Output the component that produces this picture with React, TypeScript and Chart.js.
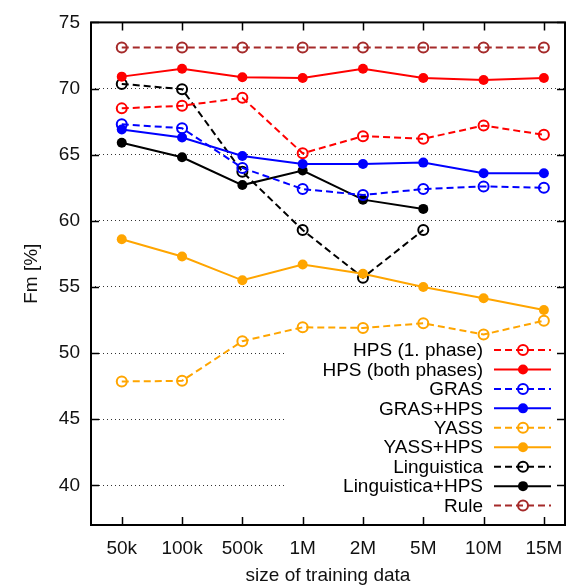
import React, { useEffect, useRef } from "react";
import { Chart, registerables } from "chart.js";

Chart.register(...registerables);

const categories = ["50k", "100k", "500k", "1M", "2M", "5M", "10M", "15M"];
const yTicks = [40, 45, 50, 55, 60, 65, 70, 75];

const hps1 = [68.5, 68.7, 69.3, 65.1, 66.4, 66.2, 67.2, 66.5];
const hpsBoth = [70.9, 71.5, 70.85, 70.8, 71.5, 70.8, 70.65, 70.8];
const gras = [67.3, 67.0, 64.0, 62.4, 61.95, 62.4, 62.6, 62.5];
const grasHps = [66.9, 66.3, 64.9, 64.3, 64.3, 64.4, 63.6, 63.6];
const yass = [47.85, 47.9, 50.9, 51.95, 51.9, 52.25, 51.4, 52.45];
const yassHps = [58.6, 57.3, 55.5, 56.7, 56.0, 55.0, 54.15, 53.25];
const linguistica = [70.35, 69.95, 63.7, 59.3, 55.7, 59.3, null, null];
const linguisticaHps = [65.9, 64.8, 62.7, 63.8, 61.6, 60.9, null, null];
const rule = [73.1, 73.1, 73.1, 73.1, 73.1, 73.1, 73.1, 73.1];

const FONT = "'Liberation Sans', Arial, Helvetica, sans-serif";
const FS = 19;

type Series = { label: string; data: (number | null)[]; color: string; dashed: boolean };

const seriesList: Series[] = [
  { label: "HPS (1. phase)", data: hps1, color: "#ff0000", dashed: true },
  { label: "HPS (both phases)", data: hpsBoth, color: "#ff0000", dashed: false },
  { label: "GRAS", data: gras, color: "#0000ff", dashed: true },
  { label: "GRAS+HPS", data: grasHps, color: "#0000ff", dashed: false },
  { label: "YASS", data: yass, color: "#ffa500", dashed: true },
  { label: "YASS+HPS", data: yassHps, color: "#ffa500", dashed: false },
  { label: "Linguistica", data: linguistica, color: "#000000", dashed: true },
  { label: "Linguistica+HPS", data: linguisticaHps, color: "#000000", dashed: false },
  { label: "Rule", data: rule, color: "#a52a2a", dashed: true },
];

const DASH = [7, 4];

const framePlugin = {
  id: "frame",
  beforeDatasetsDraw(chart: any) {
    const { ctx, chartArea } = chart;
    ctx.save();
    ctx.fillStyle = "#ffffff";
    ctx.fillRect(285, chartArea.bottom - 187, chartArea.right - 285 - 1, 186);
    ctx.restore();
  },
  afterDatasetsDraw(chart: any) {
    const { ctx, chartArea } = chart;
    ctx.save();
    const step = 19.45;
    const y0 = chartArea.bottom - 175;
    const textRight = chartArea.right - 82;
    const lx1 = chartArea.right - 71;
    const lx2 = chartArea.right - 14;
    const mx = chartArea.right - 42;
    ctx.font = `${FS}px ${FONT}`;
    ctx.textAlign = "right";
    ctx.textBaseline = "middle";
    seriesList.forEach((s, i) => {
      const y = y0 + i * step;
      ctx.fillStyle = "#000";
      ctx.fillText(s.label, textRight, y + 1);
      ctx.strokeStyle = s.color;
      ctx.lineWidth = 2;
      ctx.setLineDash(s.dashed ? DASH : []);
      ctx.beginPath();
      ctx.moveTo(lx1, y);
      ctx.lineTo(lx2, y);
      ctx.stroke();
      ctx.setLineDash([]);
      ctx.beginPath();
      ctx.arc(mx, y, 5, 0, Math.PI * 2);
      if (s.dashed) {
        ctx.stroke();
      } else {
        ctx.fillStyle = s.color;
        ctx.fill();
      }
    });
    ctx.restore();
  },
  afterDraw(chart: any) {
    const { ctx, chartArea, scales } = chart;
    const { left, right, top, bottom } = chartArea;
    ctx.save();
    ctx.strokeStyle = "#000";
    ctx.lineWidth = 1.5;
    ctx.setLineDash([]);
    const tl = 8;
    ctx.beginPath();
    yTicks.forEach((v) => {
      const y = Math.round(scales.y.getPixelForValue(v)) + 0.5;
      ctx.moveTo(left, y);
      ctx.lineTo(left + tl, y);
      ctx.moveTo(right, y);
      ctx.lineTo(right - tl, y);
    });
    categories.forEach((_, i) => {
      const x = Math.round(scales.x.getPixelForValue(i)) + 0.5;
      ctx.moveTo(x, bottom);
      ctx.lineTo(x, bottom - tl);
      ctx.moveTo(x, top);
      ctx.lineTo(x, top + tl);
    });
    ctx.stroke();
    ctx.lineWidth = 2;
    ctx.strokeRect(left, top, right - left, bottom - top);
    ctx.restore();
  },
};

export default function App() {
  const ref = useRef<HTMLCanvasElement | null>(null);
  useEffect(() => {
    document.body.style.margin = "0";
    if (!ref.current) return;
    const datasets = seriesList.map((s) => ({
      label: s.label,
      data: s.data.map((v, i) => ({ x: i, y: v })),
      borderColor: s.color,
      backgroundColor: s.dashed ? "rgba(0,0,0,0)" : s.color,
      borderWidth: 2,
      borderDash: s.dashed ? DASH : [],
      pointRadius: 5,
      pointBorderWidth: s.dashed ? 2 : 0,
      pointBorderColor: s.color,
      pointBackgroundColor: s.dashed ? "rgba(0,0,0,0)" : s.color,
      pointStyle: "circle",
      spanGaps: false,
      tension: 0,
      fill: false,
    }));
    const chart = new Chart(ref.current, {
      type: "line",
      data: { datasets },
      options: {
        animation: false,
        responsive: false,
        layout: { padding: { top: 9, right: 12, left: 0, bottom: 0 } },
        plugins: { legend: { display: false }, tooltip: { enabled: false } },
        scales: {
          x: {
            type: "linear",
            min: -0.51,
            max: 7.35,
            afterBuildTicks: (scale: any) => {
              scale.ticks = categories.map((_, i) => ({ value: i }));
            },
            afterFit: (scale: any) => {
              scale.height = 61;
            },
            grid: { display: false, drawTicks: false },
            border: { display: false },
            ticks: {
              callback: (v: any) => categories[Math.round(v)] ?? "",
              font: { family: FONT, size: FS },
              color: "#111",
              padding: 12,
              maxRotation: 0,
              autoSkip: false,
            },
            title: {
              display: true,
              text: "size of training data",
              font: { family: FONT, size: FS },
              color: "#111",
              padding: { top: 0, bottom: -1 },
            },
          },
          y: {
            min: 37,
            max: 75,
            afterBuildTicks: (scale: any) => {
              scale.ticks = yTicks.map((v) => ({ value: v }));
            },
            afterFit: (scale: any) => {
              scale.width = 91;
            },
            grid: {
              drawTicks: false,
              color: (c: any) => (c.tick && c.tick.value === 75 ? "rgba(0,0,0,0)" : "#333"),
              lineWidth: 1,
            },
            border: { display: false, dash: [1, 3] },
            ticks: {
              font: { family: FONT, size: FS },
              color: "#111",
              padding: 11,
            },
            title: {
              display: true,
              text: "Fm [%]",
              font: { family: FONT, size: FS },
              color: "#111",
              padding: { top: 20, bottom: 0 },
            },
          },
        },
      },
      plugins: [framePlugin],
    } as any);
    return () => chart.destroy();
  }, []);
  return <canvas ref={ref} width={577} height={586} style={{ display: "block" }} />;
}
